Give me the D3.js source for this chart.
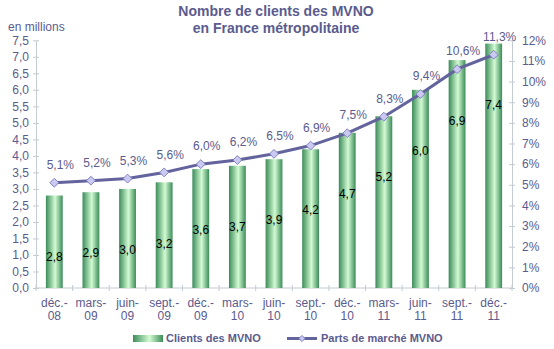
<!DOCTYPE html>
<html>
<head>
<meta charset="utf-8">
<script src="https://cdn.jsdelivr.net/npm/d3@7"></script>
<style>
  body { margin: 0; background: #fff; }
  text { font-family: "Liberation Sans", Arial, sans-serif; }
</style>
</head>
<body>
<script>
// Quarters, subscribers (millions) and market share (%)
var categories = ["déc.-08", "mars-09", "juin-09", "sept.-09", "déc.-09", "mars-10", "juin-10",
                  "sept.-10", "déc.-10", "mars-11", "juin-11", "sept.-11", "déc.-11"];
var clients = [2.8, 2.9, 3.0, 3.2, 3.6, 3.7, 3.9, 4.2, 4.7, 5.2, 6.0, 6.9, 7.4];
var parts = [5.1, 5.2, 5.3, 5.6, 6.0, 6.2, 6.5, 6.9, 7.5, 8.3, 9.4, 10.6, 11.3];
var leftTicks = [0, 0.5, 1, 1.5, 2, 2.5, 3, 3.5, 4, 4.5, 5, 5.5, 6, 6.5, 7, 7.5];
var rightTicks = [0, 1, 2, 3, 4, 5, 6, 7, 8, 9, 10, 11, 12];

var width = 554;
var height = 349;
var plotLeft = 36, plotRight = 512, plotTop = 40.3, plotBottom = 288;

var textColor = "#5b5b8e";
var axisColor = "#c3cbd3";
var lineColor = "#63639d";

var fr = d3.formatLocale({decimal: ",", thousands: " ", grouping: [3], currency: ["", " €"]});
var fmt1 = fr.format(".1f");

var svg = d3.select("body")
    .append("svg")
    .attr("width", width)
    .attr("height", height);

// gradient for the bars: dark edges, light middle
var grad = svg.append("defs")
    .append("linearGradient")
    .attr("id", "barGrad")
    .attr("x1", "0%").attr("x2", "100%")
    .attr("y1", "0%").attr("y2", "0%");
grad.append("stop").attr("offset", "0%").attr("stop-color", "#3b8c59");
grad.append("stop").attr("offset", "55%").attr("stop-color", "#d3fbd3");
grad.append("stop").attr("offset", "100%").attr("stop-color", "#3b8c59");

var x = d3.scaleBand()
    .domain(categories)
    .range([plotLeft, plotRight]);

var y = d3.scaleLinear()
    .domain([0, 7.5])
    .range([plotBottom, plotTop]);

var y2 = d3.scaleLinear()
    .domain([0, 12])
    .range([plotBottom, plotTop]);

// title
svg.append("text")
    .attr("x", 276).attr("y", 16)
    .attr("text-anchor", "middle")
    .attr("font-size", 14).attr("font-weight", "bold")
    .attr("fill", textColor)
    .text("Nombre de clients des MVNO");
svg.append("text")
    .attr("x", 276).attr("y", 33)
    .attr("text-anchor", "middle")
    .attr("font-size", 14).attr("font-weight", "bold")
    .attr("fill", textColor)
    .text("en France métropolitaine");

svg.append("text")
    .attr("x", 8).attr("y", 31)
    .attr("font-size", 12)
    .attr("fill", textColor)
    .text("en millions");

// left axis
var yAxis = d3.axisLeft(y)
    .tickValues(leftTicks)
    .tickFormat(fmt1)
    .tickSizeInner(3)
    .tickSizeOuter(0)
    .tickPadding(4);

var gy = svg.append("g")
    .attr("transform", "translate(" + plotLeft + ",0)")
    .call(yAxis);

// right axis
var y2Axis = d3.axisRight(y2)
    .tickValues(rightTicks)
    .tickFormat(function (d) { return d + "%"; })
    .tickSizeInner(3)
    .tickSizeOuter(0)
    .tickPadding(7);

var gy2 = svg.append("g")
    .attr("transform", "translate(" + plotRight + ",0)")
    .call(y2Axis);

// bottom axis: ticks at category boundaries
var gx = svg.append("g");
gx.append("line")
    .attr("x1", plotLeft).attr("x2", plotRight)
    .attr("y1", plotBottom).attr("y2", plotBottom)
    .attr("stroke", axisColor);
gx.selectAll(".xtick")
    .data(categories.concat([null]))
    .enter()
    .append("line")
    .attr("class", "xtick")
    .attr("x1", function (d, i) { return plotLeft + i * x.step(); })
    .attr("x2", function (d, i) { return plotLeft + i * x.step(); })
    .attr("y1", plotBottom - 3)
    .attr("y2", plotBottom + 3)
    .attr("stroke", axisColor);

var xl = gx.selectAll(".xlab")
    .data(categories)
    .enter()
    .append("text")
    .attr("class", "xlab")
    .attr("text-anchor", "middle")
    .attr("font-size", 12)
    .attr("fill", textColor);
xl.append("tspan")
    .attr("x", function (d) { return x(d) + x.bandwidth() / 2; })
    .attr("y", 307)
    .text(function (d) { return d.slice(0, d.lastIndexOf("-") + 1); });
xl.append("tspan")
    .attr("x", function (d) { return x(d) + x.bandwidth() / 2; })
    .attr("y", 320)
    .text(function (d) { return d.slice(d.lastIndexOf("-") + 1); });

[gy, gy2].forEach(function (g) {
    g.select(".domain").attr("stroke", axisColor);
    g.selectAll(".tick line").attr("stroke", axisColor).attr("x1", -3).attr("x2", 3);
    g.selectAll(".tick text")
        .attr("fill", textColor)
        .attr("font-size", 12)
        .attr("font-family", "Liberation Sans, Arial, sans-serif");
});

// bars
var barW = x.bandwidth() * 0.46;
svg.selectAll(".bar")
    .data(clients)
    .enter()
    .append("rect")
    .attr("class", "bar")
    .attr("x", function (d, i) { return x(categories[i]) + (x.bandwidth() - barW) / 2; })
    .attr("y", function (d) { return y(d); })
    .attr("width", barW)
    .attr("height", function (d) { return plotBottom - y(d); })
    .attr("fill", "url(#barGrad)");

// values inside bars
svg.selectAll(".barlab")
    .data(clients)
    .enter()
    .append("text")
    .attr("class", "barlab")
    .attr("x", function (d, i) { return x(categories[i]) + x.bandwidth() / 2; })
    .attr("y", function (d) { return y(d) + 61; })
    .attr("dy", "0.35em")
    .attr("text-anchor", "middle")
    .attr("font-size", 12)
    .attr("fill", "#000")
    .text(fmt1);

// market share line
var line = d3.line()
    .x(function (d, i) { return x(categories[i]) + x.bandwidth() / 2; })
    .y(function (d) { return y2(d); });

svg.append("path")
    .datum(parts)
    .attr("d", line)
    .attr("fill", "none")
    .attr("stroke", lineColor)
    .attr("stroke-width", 3);

var diamond = d3.symbol().type(d3.symbolDiamond2).size(50);

svg.selectAll(".pt")
    .data(parts)
    .enter()
    .append("path")
    .attr("class", "pt")
    .attr("d", diamond)
    .attr("transform", function (d, i) {
        return "translate(" + (x(categories[i]) + x.bandwidth() / 2) + "," + y2(d) + ")";
    })
    .attr("fill", "#c9c9f2")
    .attr("stroke", "#8383c0")
    .attr("stroke-width", 1);

svg.selectAll(".ptlab")
    .data(parts)
    .enter()
    .append("text")
    .attr("class", "ptlab")
    .attr("x", function (d, i) { return x(categories[i]) + x.bandwidth() / 2 + 6; })
    .attr("y", function (d) { return y2(d) - 18; })
    .attr("dy", "0.35em")
    .attr("text-anchor", "middle")
    .attr("font-size", 12)
    .attr("fill", textColor)
    .text(function (d) { return fmt1(d) + "%"; });

// legend
var lg = svg.append("g");
lg.append("rect")
    .attr("x", 133).attr("y", 335)
    .attr("width", 30).attr("height", 7)
    .attr("fill", "url(#barGrad)");
lg.append("text")
    .attr("x", 166).attr("y", 342)
    .attr("font-size", 11).attr("font-weight", "bold")
    .attr("fill", textColor)
    .text("Clients des MVNO");
lg.append("line")
    .attr("x1", 287).attr("x2", 317)
    .attr("y1", 338.5).attr("y2", 338.5)
    .attr("stroke", lineColor)
    .attr("stroke-width", 3);
lg.append("path")
    .attr("d", d3.symbol().type(d3.symbolDiamond2).size(24))
    .attr("transform", "translate(302,338.5)")
    .attr("fill", "#c9c9f2")
    .attr("stroke", "#8383c0");
lg.append("text")
    .attr("x", 321).attr("y", 342)
    .attr("font-size", 11).attr("font-weight", "bold")
    .attr("fill", textColor)
    .text("Parts de marché MVNO");
</script>
</body>
</html>
